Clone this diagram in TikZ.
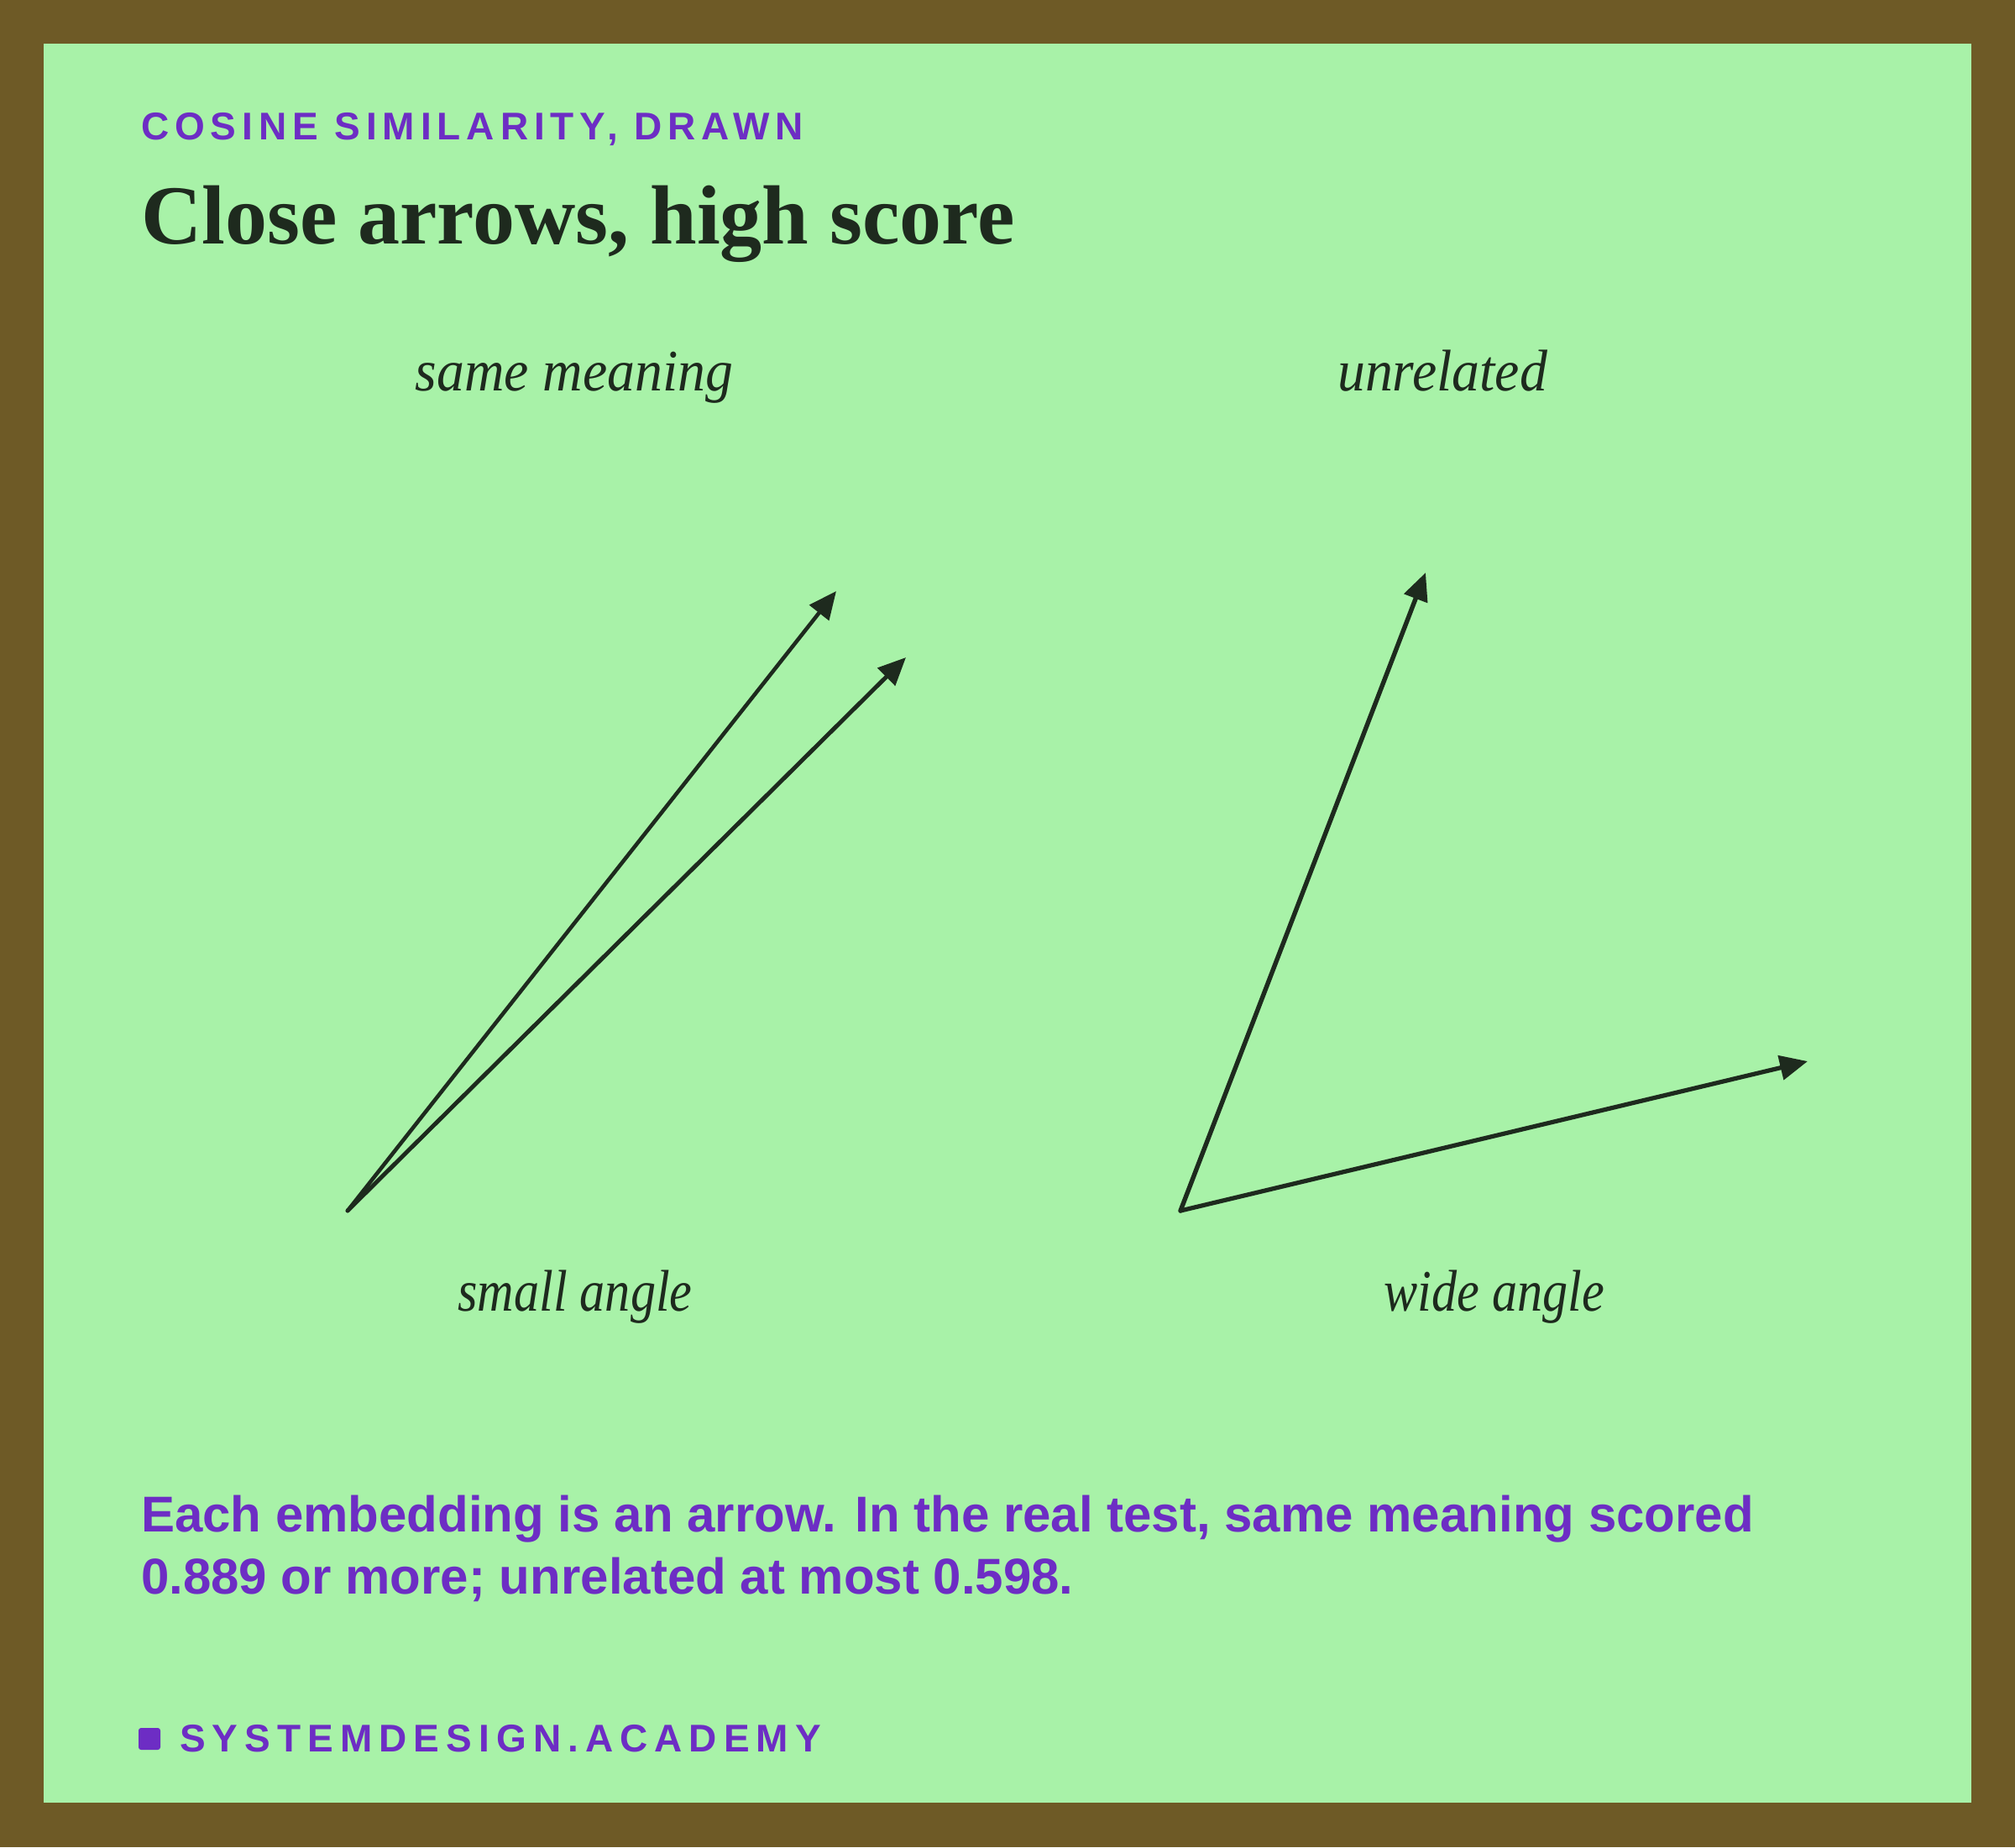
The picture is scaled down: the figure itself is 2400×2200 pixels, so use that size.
\documentclass[tikz,border=0pt]{standalone}
\usepackage{fontspec}
\usepackage{graphicx}
\usetikzlibrary{arrows.meta}
\setmainfont{Latin Modern Roman}
\newfontfamily\kickfont[LetterSpace=15]{Liberation Sans}
\newfontfamily\footfont[LetterSpace=17.5]{Liberation Sans}
\newfontfamily\bodyfont{Liberation Sans}
\newfontfamily\titlefont{Liberation Serif}
\newfontfamily\labfont{Liberation Serif}
\definecolor{frame}{HTML}{6E5A26}
\definecolor{panel}{HTML}{A8F2A8}
\definecolor{accent}{HTML}{6D2DC4}
\definecolor{ink}{HTML}{1E2A1E}
\tikzset{
  kicker/.style={anchor=base west, inner sep=0pt, text=accent, font=\kickfont\bfseries\fontsize{46}{46}\selectfont},
  titletxt/.style={anchor=base west, inner sep=0pt, text=ink, font=\titlefont\bfseries\fontsize{100}{100}\selectfont},
  lab/.style={anchor=base, inner sep=0pt, text=ink, font=\labfont\itshape\fontsize{70}{70}\selectfont},
  bodytxt/.style={anchor=base west, inner sep=0pt, text=accent, font=\bodyfont\bfseries\fontsize{60}{60}\selectfont},
  foot/.style={anchor=base west, inner sep=0pt, text=accent, font=\footfont\bfseries\fontsize{46}{46}\selectfont},
  vec/.style={draw=ink, line width=#1, line cap=round, -{Triangle[length=33pt,width=29pt]}},
}
\begin{document}
\begin{tikzpicture}[x=1pt,y=-1pt]
\fill[frame] (0,0) rectangle (2400,2200);
\fill[panel] (52,52) rectangle (2348,2147);
\useasboundingbox (0,0) rectangle (2400,2200);

\node[kicker] (kick) at (168,166) {COSINE SIMILARITY, DRAWN};
\node[titletxt] (title) at (168,290) {Close arrows, high score};

\node[lab] (same) at (684,465) {\scalebox{0.94}[1]{same meaning}};
\node[lab] (unrel) at (1718,465) {\scalebox{0.94}[1]{unrelated}};
\node[lab] (small) at (685,1561) {\scalebox{0.86}[1]{small angle}};
\node[lab] (wide) at (1780,1561) {\scalebox{0.86}[1]{wide angle}};

\coordinate (o1) at (414,1442);
\coordinate (t1) at (996,704);
\coordinate (t2) at (1079,783);
\coordinate (o2) at (1406,1442);
\coordinate (t3) at (1698,682);
\coordinate (t4) at (2153,1264);

\draw[vec=4.6pt] (o1) -- (t1);
\draw[vec=5pt] (o1) -- (t2);
\draw[vec=5.4pt] (o2) -- (t3);
\draw[vec=5.2pt] (o2) -- (t4);

\node[bodytxt] (body1) at (168,1824) {Each embedding is an arrow. In the real test, same meaning scored};
\node[bodytxt] (body2) at (168,1898) {0.889 or more; unrelated at most 0.598.};

\fill[accent, rounded corners=3pt] (165,2058) rectangle (191,2084);
\node[foot] (brand) at (214,2086) {SYSTEMDESIGN.ACADEMY};
\end{tikzpicture}
\end{document}
